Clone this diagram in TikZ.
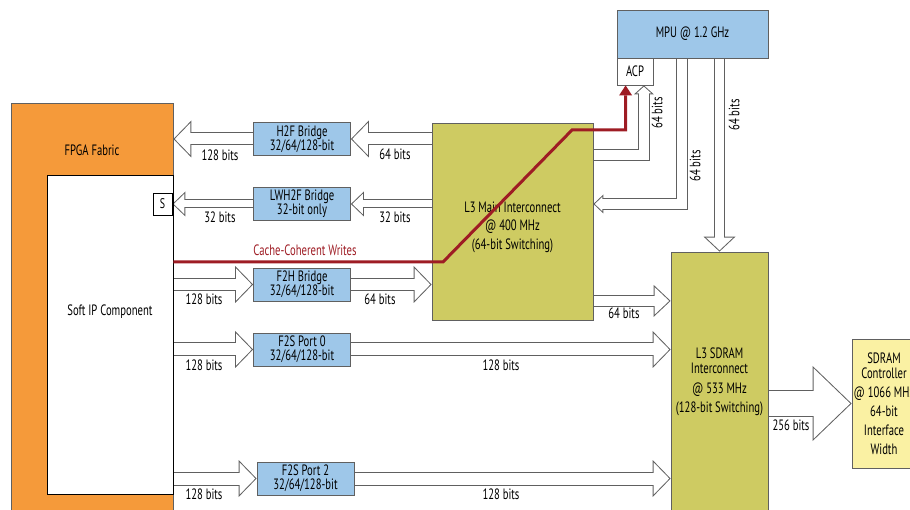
\documentclass[tikz,border=0pt]{standalone}
\usepackage{fontspec}
\setmainfont{PT Sans}[FakeStretch=0.71]
\usepackage{tikz}
\usetikzlibrary{arrows.meta,positioning,calc}
\definecolor{fabor}{RGB}{245,154,58}
\definecolor{brblue}{RGB}{158,199,233}
\definecolor{icol}{RGB}{206,203,98}
\definecolor{ctly}{RGB}{250,241,163}
\definecolor{ccred}{RGB}{158,28,36}
\definecolor{lgray}{RGB}{96,96,96}
\pgfdeclarelayer{bg}
\pgfsetlayers{bg,main}
\tikzset{
  lbl/.style={font=\fontsize{15}{15}\selectfont, inner sep=0pt},
  bridge/.style={draw=lgray, fill=brblue, line width=0.8pt, inner sep=0pt,
                 minimum width=97pt, minimum height=33pt, align=center,
                 font=\fontsize{15}{14}\selectfont},
  xbar/.style={draw=lgray, fill=icol, line width=0.8pt, inner sep=0pt, align=center,
               font=\fontsize{15}{18.5}\selectfont},
  fabric/.style={draw=lgray, fill=fabor, line width=0.8pt, inner sep=0pt},
  wbox/.style={draw=black, fill=white, line width=0.8pt, inner sep=0pt},
  ccw/.style={ccred, line width=3pt, -{Triangle[length=10pt, width=13pt, line width=0pt]}},
  fat/.code n args={3}{% gap between the two lines, head width, head length
    \pgfmathsetmacro\fatA{#1+1}\pgfmathsetmacro\fatB{#1-1}%
    \pgfmathsetmacro\fatD{sqrt((#2/2)^2+(#3)^2)/(#2/2)}%
    \pgfmathsetmacro\fatL{#3-\fatD-1}\pgfmathsetmacro\fatH{#2*\fatL/#3}%
    \edef\fatopts{preaction={draw=lgray, line width=\fatA pt, shorten >=0pt,
        -{Triangle[length=#3pt, width=#2pt, line width=0pt]}},
      draw=white, line width=\fatB pt, shorten >=\fatD pt,
      -{Triangle[length=\fatL pt, width=\fatH pt, line width=0pt]}}%
    \expandafter\tikzset\expandafter{\fatopts}},
}
\begin{document}
\begin{tikzpicture}[x=1pt, y=-1pt]
  \useasboundingbox (0,0) rectangle (910,510);
  \clip (0,0) rectangle (910,510);
  % fpga side
  \node[fabric, minimum width=162pt, minimum height=417pt] (fpga) at (92,311.5) {};
  \node[lbl] (fpgalbl) at (92,150) {FPGA Fabric};
  \node[wbox, minimum width=126pt, minimum height=319pt] (soft) at (110,334.5) {};
  \node[lbl] (softlbl) at (110,312) {Soft IP Component};
  \node[wbox, minimum width=19pt, minimum height=22pt, font=\fontsize{14}{14}\selectfont] (sport) at (162.5,204) {S};
  % bridges
  \node[bridge] (h2f) at (302,139) {H2F Bridge\\32/64/128-bit};
  \node[bridge] (lwh2f) at (302,204) {LWH2F Bridge\\32-bit only};
  \node[bridge] (f2h) at (302,284.5) {F2H Bridge\\32/64/128-bit};
  \node[bridge] (f2s0) at (302,349.5) {F2S Port 0\\32/64/128-bit};
  \node[bridge] (f2s2) at (305.5,478.5) {F2S Port 2\\32/64/128-bit};
  % hps side
  \node[xbar, minimum width=161pt, minimum height=197pt] (main) at (512.5,221.5) {};
  \node[lbl, align=center, font=\fontsize{15}{18.5}\selectfont] (mainlbl) at (512.5,227)
    {L3 Main Interconnect\\@ 400 MHz\\(64-bit Switching)};
  \node[bridge, minimum width=151pt, minimum height=48pt] (mpu) at (692.5,34) {MPU @ 1.2 GHz};
  \node[wbox, draw=lgray, minimum width=36pt, minimum height=27pt, font=\fontsize{15}{15}\selectfont] (acp) at (635,71.5) {ACP};
  \node[xbar, minimum width=97pt, minimum height=260pt, font=\fontsize{15}{19.5}\selectfont] (sdram) at (719.5,382)
    {L3 SDRAM\\[-4.5pt]Interconnect\\@ 533 MHz\\(128-bit Switching)};
  \node[xbar, fill=ctly, minimum width=64pt, minimum height=129pt, font=\fontsize{15}{19}\selectfont] (ctrl) at (884,403.5)
    {SDRAM\\[-4pt]Controller\\@ 1066 MHz\\64-bit\\Interface\\Width};
  \coordinate (m2s) at ([yshift=19.5pt]main.south east);
  \coordinate (m2a) at ([yshift=-32.5pt]main.north east);
  \coordinate (mpuout) at ([xshift=-10.5pt]mpu.south);
  \coordinate (acpin) at ([xshift=-9.5pt]acp.south east);
  \begin{pgfonlayer}{bg}
    \draw[fat={12}{37}{18}] (main.west |- h2f) -- (h2f.east);
    \draw[fat={12}{37}{18}] (h2f.west) -- (fpga.east |- h2f);
    \draw[fat={8}{25}{13}] (main.west |- lwh2f) -- (lwh2f.east);
    \draw[fat={8}{25}{13}] (lwh2f.west) -- (sport.east);
    \draw[fat={12}{37}{18}] (soft.east |- f2h) -- (f2h.west);
    \draw[fat={12}{37}{18}] (f2h.east) -- (main.west |- f2h);
    \draw[fat={13}{37}{18}] (soft.east |- f2s0) -- (f2s0.west);
    \draw[fat={13}{37}{18}] (f2s0.east) -- (sdram.west |- f2s0);
    \draw[fat={13}{37}{18}] (soft.east |- f2s2) -- (f2s2.west);
    \draw[fat={13}{37}{18}] (f2s2.east) -- (sdram.west |- f2s2);
    \draw[fat={11}{32}{17}] (m2s) -- (m2s -| sdram.west);
    \draw[fat={26}{75}{39}] (sdram.east |- ctrl) -- (ctrl.west);
    \draw[fat={10}{32}{15}] (sdram.north |- mpu.south) -- (sdram.north);
    \draw[fat={11}{19}{10}] (mpuout) |- (main.east |- lwh2f);
    \draw[fat={11}{20}{9}] (m2a) -| (acpin);
  \end{pgfonlayer}
  % widths
  \node[lbl] (h2fout) at (220,155) {128 bits};
  \node[lbl] (h2fin) at (395,154) {64 bits};
  \node[lbl] (lwout) at (220,217) {32 bits};
  \node[lbl] (lwin) at (395,217) {32 bits};
  \node[lbl] (f2hin) at (204,299) {128 bits};
  \node[lbl] (f2hout) at (380,299) {64 bits};
  \node[lbl] (p0in) at (204,365) {128 bits};
  \node[lbl] (p0out) at (501,365) {128 bits};
  \node[lbl] (p2in) at (204,494) {128 bits};
  \node[lbl] (p2out) at (501,494) {128 bits};
  \node[lbl] (m2slbl) at (624,313) {64 bits};
  \node[lbl] (ctllbl) at (791,425) {256 bits};
  \node[lbl, rotate=90] (acplbl) at (657,113) {64 bits};
  \node[lbl, rotate=90] (mpulbl) at (695,166) {64 bits};
  \node[lbl, rotate=90] (sdrlbl) at (734,115) {64 bits};
  % cache-coherent path
  \coordinate (cc1) at (443,262);
  \coordinate (cc2) at (572,130);
  \draw[ccw] (soft.east |- cc1) -- (cc1) -- (cc2) -| ([xshift=9pt]acp.south west);
  \node[lbl, text=ccred] (cclbl) at (305,250) {Cache-Coherent Writes};
\end{tikzpicture}
\end{document}
